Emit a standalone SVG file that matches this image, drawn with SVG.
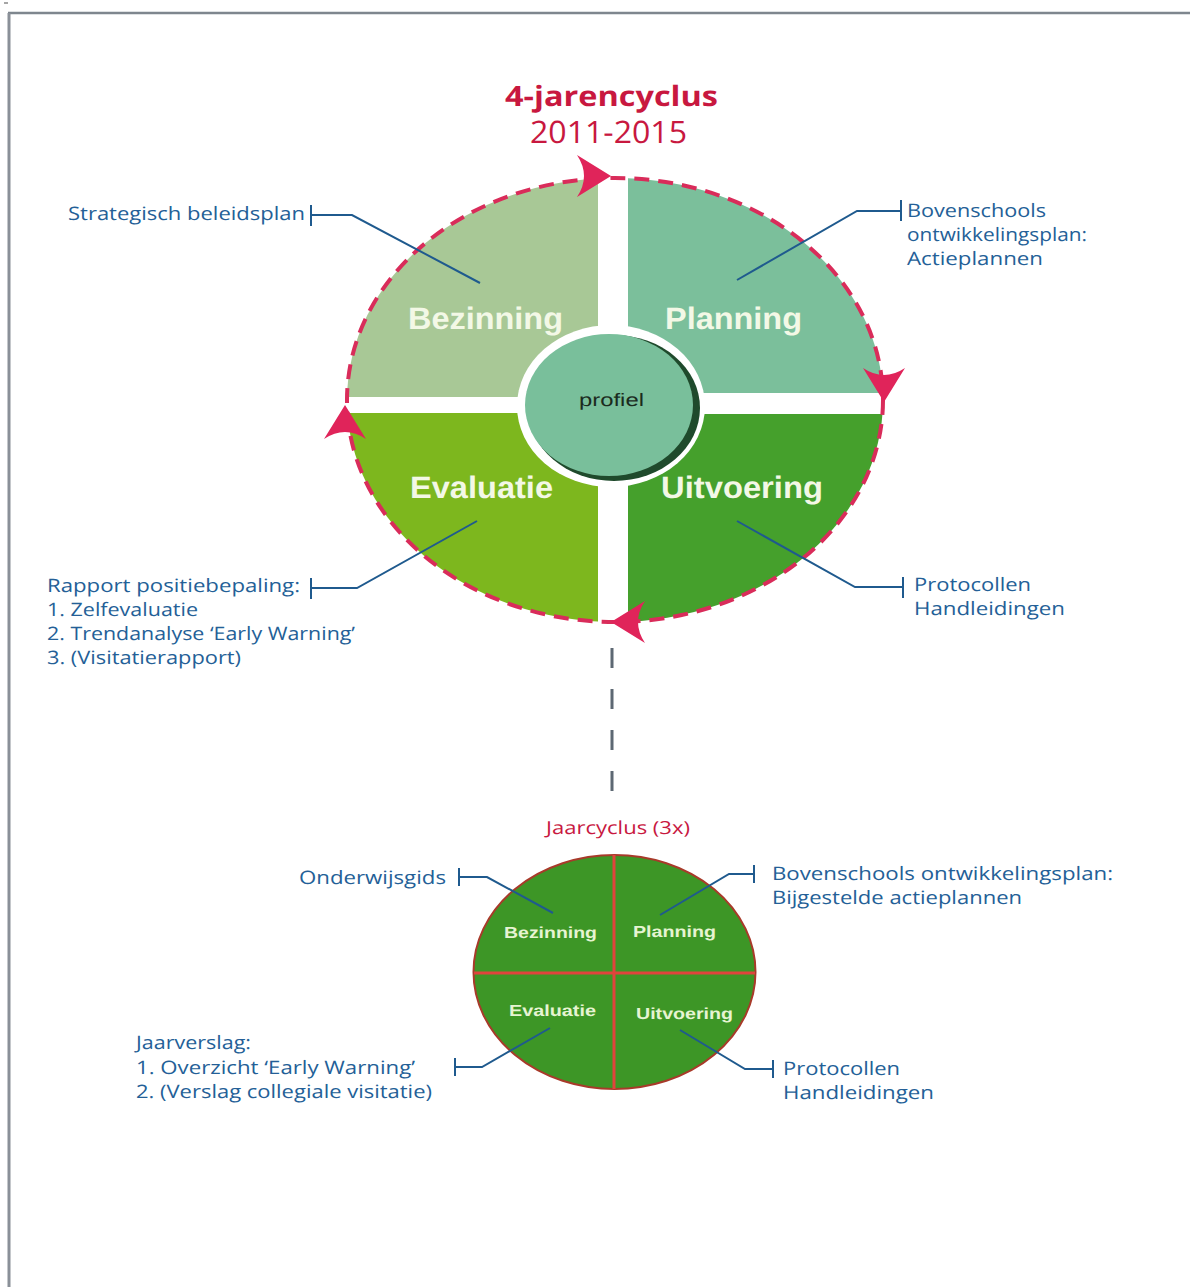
<svg xmlns="http://www.w3.org/2000/svg" width="1190" height="1287" viewBox="0 0 1190 1287">
<style>
text{text-rendering:geometricPrecision}
.lbl{font-family:"Open Sans","Noto Sans",sans-serif;font-size:18.5px;fill:#245f97}
.q{font-family:"Liberation Sans",Arial,sans-serif;font-weight:bold;font-size:31px;fill:#f3f8e6}
.qs{font-family:"Liberation Sans",Arial,sans-serif;font-weight:bold;font-size:16px;fill:#e6f4d2}
.red{font-family:"Open Sans","Noto Sans",sans-serif;fill:#c8183f}
.call{fill:none;stroke:#1f5a8e;stroke-width:2}
.arr{fill:#e0245a}
</style>
<defs>
<clipPath id="bigClip"><ellipse cx="615" cy="400" rx="268" ry="222"/></clipPath>
<path id="arrow" d="M0,0 L-34,-21 Q-20,0 -34,21 Z"/>
</defs>
<rect width="1190" height="1287" fill="#ffffff"/>
<g id="frame">
<line x1="8" y1="13" x2="1190" y2="13" stroke="#7e868e" stroke-width="2.5"/>
<line x1="9" y1="13" x2="9" y2="1287" stroke="#8a9098" stroke-width="3"/>
<line x1="4" y1="3" x2="8" y2="3" stroke="#888" stroke-width="1.5"/>
</g>
<g id="title">
<text class="red" x="505" y="106" font-size="28" font-weight="bold" textLength="213" lengthAdjust="spacingAndGlyphs">4-jarencyclus</text>
<text class="red" x="530" y="143" font-size="31" textLength="157" lengthAdjust="spacingAndGlyphs">2011-2015</text>
</g>
<g id="big-cycle">
<g clip-path="url(#bigClip)">
<rect id="q-bezinning" x="330" y="160" width="268" height="237" rx="10" fill="#a8c896"/>
<rect id="q-planning" x="628" y="160" width="270" height="233" rx="10" fill="#7bbf9b"/>
<rect id="q-evaluatie" x="330" y="413" width="268" height="230" rx="10" fill="#7db71e"/>
<rect id="q-uitvoering" x="628" y="414" width="270" height="230" rx="10" fill="#45a02c"/>
</g>
<ellipse cx="611" cy="406" rx="94" ry="81" fill="#ffffff"/>
<ellipse cx="614" cy="408" rx="86" ry="73" fill="#1f4a2c"/>
<ellipse cx="609" cy="405" rx="84" ry="71" fill="#79bf9b"/>
<ellipse cx="615" cy="400" rx="268" ry="222" fill="none" stroke="#d92c5a" stroke-width="4" stroke-dasharray="15 9"/>
<use href="#arrow" class="arr" transform="translate(611,176)"/>
<use href="#arrow" class="arr" transform="translate(884,402) rotate(90)"/>
<use href="#arrow" class="arr" transform="translate(611,622) rotate(180)"/>
<use href="#arrow" class="arr" transform="translate(345,405) rotate(-90)"/>
<text class="q" x="408" y="329" textLength="155" lengthAdjust="spacingAndGlyphs">Bezinning</text>
<text class="q" x="665" y="329" textLength="137" lengthAdjust="spacingAndGlyphs">Planning</text>
<text class="q" x="410" y="498" textLength="143" lengthAdjust="spacingAndGlyphs">Evaluatie</text>
<text class="q" x="661" y="498" textLength="162" lengthAdjust="spacingAndGlyphs">Uitvoering</text>
<text x="579" y="406" font-family="Liberation Sans,Arial,sans-serif" font-size="18" fill="#1b2b1e" textLength="65" lengthAdjust="spacingAndGlyphs">profiel</text>
</g>
<g id="small-cycle">
<text class="red" x="546" y="834" font-size="18" textLength="144" lengthAdjust="spacingAndGlyphs">Jaarcyclus (3x)</text>
<ellipse cx="614.5" cy="972" rx="141" ry="117" fill="#3d9626" stroke="#a83a2a" stroke-width="2"/>
<line x1="614" y1="855" x2="614" y2="1089" stroke="#e0443c" stroke-width="3"/>
<line x1="474" y1="973" x2="755" y2="973" stroke="#e0443c" stroke-width="3"/>
<text class="qs" x="504" y="938" textLength="93" lengthAdjust="spacingAndGlyphs">Bezinning</text>
<text class="qs" x="633" y="937" textLength="83" lengthAdjust="spacingAndGlyphs">Planning</text>
<text class="qs" x="509" y="1016" textLength="87" lengthAdjust="spacingAndGlyphs">Evaluatie</text>
<text class="qs" x="636" y="1019" textLength="97" lengthAdjust="spacingAndGlyphs">Uitvoering</text>
</g>
<g id="connectors">
<line x1="612" y1="648" x2="612" y2="795" stroke="#5d6873" stroke-width="3" stroke-dasharray="20 21"/>
<path class="call" d="M311,205 V226 M311,215 H352 L480,283"/>
<path class="call" d="M901,200 V221 M901,211 H857 L737,280"/>
<path class="call" d="M311,578 V599 M311,588 H357 L477,521"/>
<path class="call" d="M903,577 V598 M903,587 H855 L737,521"/>
<path class="call" d="M459,868 V886 M459,877 H487 L553,913"/>
<path class="call" d="M754,865 V883 M754,874 H729 L660,915"/>
<path class="call" d="M455,1058 V1076 M455,1067 H482 L550,1028"/>
<path class="call" d="M773,1060 V1078 M773,1069 H745 L680,1030"/>
</g>
<g id="labels">
<text class="lbl" x="68" y="220" textLength="237" lengthAdjust="spacingAndGlyphs">Strategisch beleidsplan</text>
<text class="lbl" x="907" y="217" textLength="139" lengthAdjust="spacingAndGlyphs">Bovenschools</text>
<text class="lbl" x="907" y="241" textLength="180" lengthAdjust="spacingAndGlyphs">ontwikkelingsplan:</text>
<text class="lbl" x="907" y="265" textLength="136" lengthAdjust="spacingAndGlyphs">Actieplannen</text>
<text class="lbl" x="47" y="592" textLength="253" lengthAdjust="spacingAndGlyphs">Rapport positiebepaling:</text>
<text class="lbl" x="47" y="616" textLength="151" lengthAdjust="spacingAndGlyphs">1. Zelfevaluatie</text>
<text class="lbl" x="47" y="640" textLength="308" lengthAdjust="spacingAndGlyphs">2. Trendanalyse ‘Early Warning’</text>
<text class="lbl" x="47" y="664" textLength="194" lengthAdjust="spacingAndGlyphs">3. (Visitatierapport)</text>
<text class="lbl" x="914" y="591" textLength="117" lengthAdjust="spacingAndGlyphs">Protocollen</text>
<text class="lbl" x="914" y="615" textLength="151" lengthAdjust="spacingAndGlyphs">Handleidingen</text>
<text class="lbl" x="299" y="884" textLength="147" lengthAdjust="spacingAndGlyphs">Onderwijsgids</text>
<text class="lbl" x="772" y="880" textLength="341" lengthAdjust="spacingAndGlyphs">Bovenschools ontwikkelingsplan:</text>
<text class="lbl" x="772" y="904" textLength="250" lengthAdjust="spacingAndGlyphs">Bijgestelde actieplannen</text>
<text class="lbl" x="136" y="1049" textLength="115" lengthAdjust="spacingAndGlyphs">Jaarverslag:</text>
<text class="lbl" x="136" y="1074" textLength="279" lengthAdjust="spacingAndGlyphs">1. Overzicht ‘Early Warning’</text>
<text class="lbl" x="136" y="1098" textLength="296" lengthAdjust="spacingAndGlyphs">2. (Verslag collegiale visitatie)</text>
<text class="lbl" x="783" y="1075" textLength="117" lengthAdjust="spacingAndGlyphs">Protocollen</text>
<text class="lbl" x="783" y="1099" textLength="151" lengthAdjust="spacingAndGlyphs">Handleidingen</text>
</g>
</svg>
